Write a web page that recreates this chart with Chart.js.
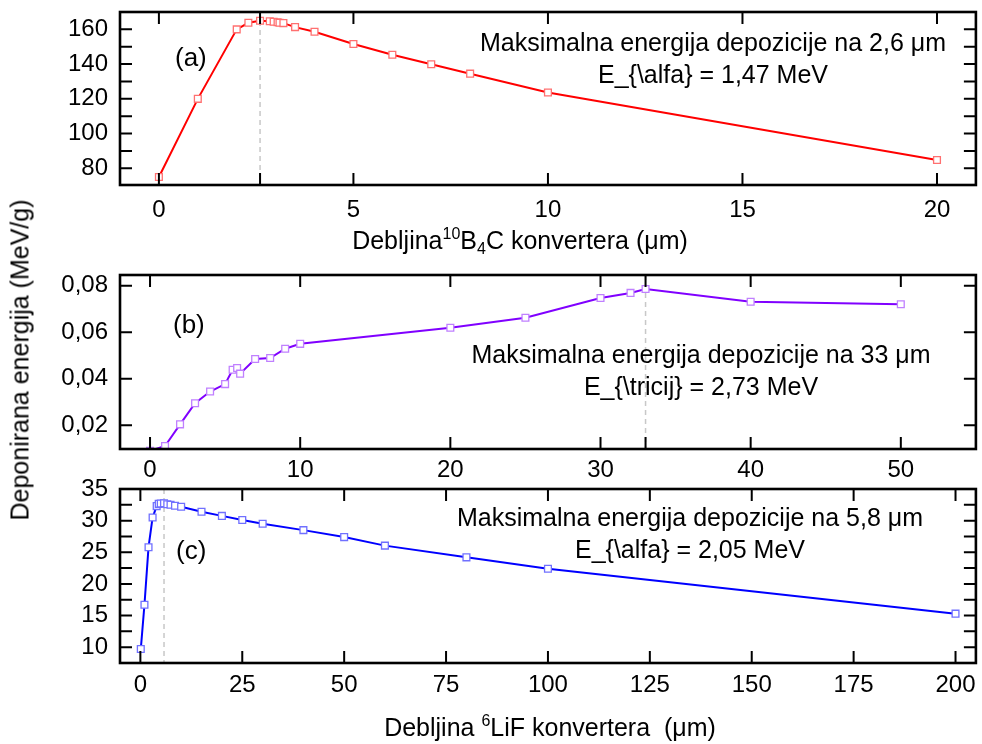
<!DOCTYPE html>
<html>
<head>
<meta charset="utf-8">
<script src="https://cdn.jsdelivr.net/npm/chart.js@4.4.0/dist/chart.umd.min.js"></script>
<style>
  body { margin: 0; background: #fff; width: 982px; height: 744px; position: relative; overflow: hidden;
         font-family: Arial, "Liberation Sans", sans-serif; color: #000; }
  .panel { position: absolute; left: 0; width: 982px; }
  .txt { position: absolute; white-space: nowrap; line-height: 1; font-size: 25px; }
  .ctr { transform: translateX(-50%); text-align: center; }
  sup, sub { font-size: 16px; line-height: 0; }
  sup { vertical-align: 10px; }
  sub { vertical-align: -5px; }
</style>
</head>
<body>
<div class="panel" style="top:0;height:250px"><canvas id="chartA"></canvas></div>
<div class="panel" style="top:255px;height:225px"><canvas id="chartB"></canvas></div>
<div class="panel" style="top:455px;height:289px"><canvas id="chartC"></canvas></div>

<div class="txt" style="left:20px;top:360px;transform:translate(-50%,-50%) rotate(-90deg);">Deponirana energija (MeV/g)</div>

<div class="txt" style="left:175px;top:44px;font-size:26px;">(a)</div>
<div class="txt ctr" style="left:713px;top:30px;">Maksimalna energija depozicije na 2,6 &mu;m</div>
<div class="txt ctr" style="left:713px;top:62px;">E_{\alfa} = 1,47 MeV</div>
<div class="txt" style="top:228px;left:520px;transform:translateX(-50%);">Debljina<sup>10</sup>B<sub>4</sub>C konvertera (&mu;m)</div>

<div class="txt" style="left:173px;top:311px;font-size:26px;">(b)</div>
<div class="txt ctr" style="left:701px;top:342px;">Maksimalna energija depozicije na 33 &mu;m</div>
<div class="txt ctr" style="left:701px;top:374px;">E_{\tricij} = 2,73 MeV</div>

<div class="txt" style="left:176px;top:537px;font-size:26px;">(c)</div>
<div class="txt ctr" style="left:690px;top:505px;">Maksimalna energija depozicije na 5,8 &mu;m</div>
<div class="txt ctr" style="left:690px;top:537px;">E_{\alfa} = 2,05 MeV</div>
<div class="txt" style="left:550px;top:715px;transform:translateX(-50%);">Debljina <sup>6</sup>LiF konvertera&nbsp; (&mu;m)</div>

<script>
// (a) 10B4C converter, alpha
const thickB4C = [0, 1, 2, 2.3, 2.6, 2.85, 2.95, 3.05, 3.1, 3.2, 3.5, 4, 5, 6, 7, 8, 10, 20];
const energyB4C = [75, 120, 160, 163.8, 165, 164.7, 164.4, 164.1, 163.8, 163.6, 161.3, 158.6, 151.6, 145.4, 139.9, 134.5, 123.7, 84.8];

// (b) 6LiF converter, triton (first point lies just below the visible range)
const thickLiFt = [0, 1, 2, 3, 4, 5, 5.5, 5.8, 6, 7, 8, 9, 10, 20, 25, 30, 32, 33, 40, 50];
const energyLiFt = [0.009, 0.0111, 0.0204, 0.0295, 0.0345, 0.0377, 0.0439, 0.0446, 0.0422, 0.0485, 0.0489, 0.0529, 0.055,
                    0.0619, 0.0662, 0.0747, 0.0769, 0.0786, 0.0731, 0.0720];

// (c) 6LiF converter, alpha
const thickLiFa = [0.1, 1, 2, 3, 4, 4.5, 5, 5.8, 6.6, 7.4, 8.5, 10, 15, 20, 25, 30, 40, 50, 60, 80, 100, 200];
const energyLiFa = [9.7, 16.7, 25.8, 30.5, 32.3, 32.65, 32.7, 32.75, 32.6, 32.5, 32.35, 32.2, 31.4, 30.75, 30.1, 29.5,
                    28.5, 27.4, 26.05, 24.2, 22.4, 15.3];

const peaks = [2.6, 33, 5.8];

// tick labels
const xTicksA = [0, 5, 10, 15, 20];
const yTicksA = [80, 100, 120, 140, 160];
const xTicksB = [0, 10, 20, 30, 40, 50];
const yTicksB = [0.02, 0.04, 0.06, 0.08];
const xTicksC = [0, 25, 50, 75, 100, 125, 150, 175, 200];
const yTicksC = [10, 15, 20, 25, 30, 35];

Chart.defaults.font.family = 'Arial, "Liberation Sans", sans-serif';
Chart.defaults.font.size = 24;
Chart.defaults.color = '#000';

// Origin-style box: inward ticks on all four sides, dashed marker at the peak
const originFrame = {
  id: 'originFrame',
  beforeDatasetsDraw(chart, args, opts) {
    const { ctx, chartArea: a, scales: { x } } = chart;
    const px = x.getPixelForValue(opts.peak);
    ctx.save();
    ctx.strokeStyle = '#c8c8c8';
    ctx.lineWidth = 1.5;
    ctx.setLineDash([5, 4]);
    ctx.beginPath();
    ctx.moveTo(px, a.top);
    ctx.lineTo(px, a.bottom);
    ctx.stroke();
    ctx.restore();
  },
  afterDraw(chart, args, opts) {
    const { ctx, chartArea: a, scales: { x, y } } = chart;
    const L = 12;
    ctx.save();
    ctx.strokeStyle = '#000';
    ctx.lineWidth = 2;
    ctx.beginPath();
    x.ticks.map(t => t.value).concat(opts.xMarks || []).forEach(v => {
      const p = x.getPixelForValue(v);
      ctx.moveTo(p, a.bottom); ctx.lineTo(p, a.bottom - L);
      ctx.moveTo(p, a.top); ctx.lineTo(p, a.top + L);
    });
    y.ticks.map(t => t.value).concat(opts.yMinor || []).forEach(v => {
      const p = y.getPixelForValue(v);
      ctx.moveTo(a.left, p); ctx.lineTo(a.left + L, p);
      ctx.moveTo(a.right, p); ctx.lineTo(a.right - L, p);
    });
    ctx.stroke();
    ctx.lineWidth = 2.6;
    ctx.strokeRect(a.left, a.top, a.right - a.left, a.bottom - a.top);
    ctx.restore();
  }
};

function makePanel(id, xs, ys, style, axes) {
  new Chart(document.getElementById(id), {
    type: 'line',
    data: {
      datasets: [{
        data: xs.map((x, i) => ({ x: x, y: ys[i] })),
        borderColor: style.line,
        borderWidth: 2,
        pointStyle: 'rect',
        pointRadius: 4.8,
        pointBorderWidth: 1.3,
        pointBorderColor: style.point,
        pointBackgroundColor: '#fff',
        tension: 0,
        clip: 0
      }]
    },
    options: {
      animation: false,
      responsive: true,
      maintainAspectRatio: false,
      layout: { padding: { top: axes.padTop, right: 2, left: 0, bottom: 0 } },
      plugins: {
        legend: { display: false },
        tooltip: { enabled: false },
        originFrame: { peak: axes.peak, xMarks: axes.xMarks, yMinor: axes.yMinor }
      },
      scales: {
        x: {
          type: 'linear',
          min: axes.xMin, max: axes.xMax,
          grid: { display: false, drawTicks: false },
          border: { display: false },
          ticks: { autoSkip: false, padding: axes.xPad, maxRotation: 0 },
          afterBuildTicks: s => { s.ticks = axes.xTicks.map(v => ({ value: v })); },
          afterFit: s => { s.height = axes.xHeight; s.paddingLeft = 0; s.paddingRight = 0; }
        },
        y: {
          min: axes.yMin, max: axes.yMax,
          grid: { display: false, drawTicks: false },
          border: { display: false },
          ticks: { autoSkip: false, padding: 12, callback: axes.yFmt || (v => v) },
          afterBuildTicks: s => { s.ticks = axes.yTicks.map(v => ({ value: v })); },
          afterFit: s => { s.width = 120; s.paddingTop = 0; s.paddingBottom = 0; }
        }
      }
    },
    plugins: [originFrame]
  });
}

makePanel('chartA', thickB4C, energyB4C, { line: '#ff0000', point: '#ff7070' }, {
  padTop: 12, xHeight: 65, xPad: 11,
  xMin: -1, xMax: 21, xTicks: xTicksA,
  yMin: 70.4, yMax: 170, yTicks: yTicksA, yMinor: [90, 110, 130, 150],
  peak: peaks[0], xMarks: [peaks[0]]
});

makePanel('chartB', thickLiFt, energyLiFt, { line: '#8000ff', point: '#c080ff' }, {
  padTop: 20, xHeight: 31, xPad: 7,
  xMin: -2, xMax: 55, xTicks: xTicksB,
  yMin: 0.0098, yMax: 0.0846, yTicks: yTicksB,
  yFmt: v => v.toFixed(2).replace('.', ','),
  peak: peaks[1], xMarks: [peaks[1]]
});

makePanel('chartC', thickLiFa, energyLiFa, { line: '#0000ff', point: '#7070ff' }, {
  padTop: 34, xHeight: 81, xPad: 8,
  xMin: -5, xMax: 205, xTicks: xTicksC,
  yMin: 7.5, yMax: 35, yTicks: yTicksC, yMinor: [12.5, 17.5, 22.5, 27.5, 32.5],
  peak: peaks[2]
});
</script>
</body>
</html>
